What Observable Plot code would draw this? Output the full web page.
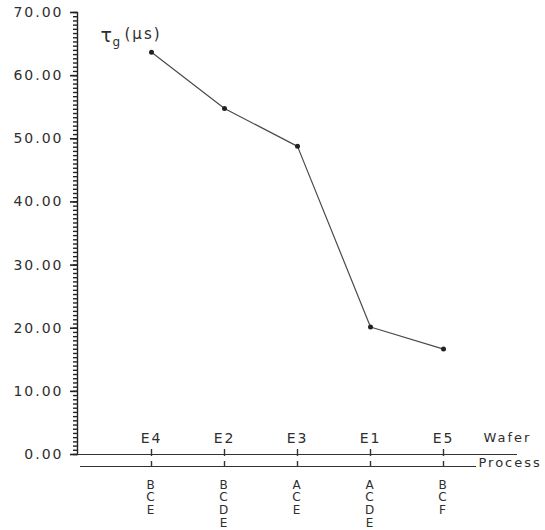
<!DOCTYPE html>
<html><head><meta charset="utf-8">
<script src="https://cdn.jsdelivr.net/npm/d3@7"></script>
<script src="https://cdn.jsdelivr.net/npm/@observablehq/plot@0.6"></script>
<style>
body{margin:0;background:#fff}
svg text{letter-spacing:2px}
</style>
</head><body><div id="chart"></div>
<script>
const wafers = ["E4", "E2", "E3", "E1", "E5"];
const tauG = [63.7, 54.8, 48.8, 20.2, 16.7];
const processes = ["B\nC\nE", "B\nC\nD\nE", "A\nC\nE", "A\nC\nD\nE", "B\nC\nF"];
const yMajorTicks = [0, 10, 20, 30, 40, 50, 60, 70];
const yMinorTicks = d3.range(0, 70.001, 10 / 15);

const data = wafers.map((w, i) => ({wafer: w, tau: tauG[i], process: processes[i]}));
const ink = "#2e2e2e";

const chart = Plot.plot({
  width: 545, height: 530,
  marginLeft: 77, marginRight: 28, marginTop: 12, marginBottom: 76,
  style: {fontFamily: "'DejaVu Sans', sans-serif", background: "#fff", color: ink},
  x: {type: "point", domain: wafers, padding: 1, axis: null},
  y: {domain: [0, 70], axis: null},
  marks: [
    Plot.axisY({ticks: yMinorTicks, tickSize: 4, tickFormat: () => "", label: null, stroke: "#222", strokeWidth: 1.4}),
    Plot.axisY({ticks: yMajorTicks, tickSize: 7, tickPadding: 7, tickFormat: d => d.toFixed(2), label: null, fontSize: 14, fill: ink, stroke: "#222", strokeWidth: 1.6}),
    Plot.frame({anchor: "left", stroke: "#222", strokeWidth: 1.4}),
    Plot.ruleY([0], {stroke: "#333", strokeWidth: 1.2}),
    Plot.ruleX(data, {x: "wafer", y1: 0, y2: 0, insetTop: -5, insetBottom: -2, stroke: "#333", strokeWidth: 1.4}),
    Plot.text(data, {x: "wafer", y: 0, text: "wafer", dy: -16, fontSize: 14, fill: ink}),
    Plot.text(["Wafer"], {frameAnchor: "bottom-right", text: d => d, textAnchor: "start", dx: -34, dy: -13, fontSize: 13, fill: ink}),
    Plot.ruleY([0], {dy: 12, insetLeft: 3, insetRight: 41, stroke: "#333", strokeWidth: 1.2}),
    Plot.ruleX(data, {x: "wafer", y1: 0, y2: 0, dy: 12, insetTop: -5, stroke: "#333", strokeWidth: 1.4}),
    Plot.text(["Process"], {frameAnchor: "bottom-right", text: d => d, textAnchor: "start", dx: -39, dy: 12, fontSize: 13, fill: ink}),
    Plot.text(data, {x: "wafer", y: 0, text: "process", dy: 25, lineAnchor: "top", lineHeight: 1.07, fontSize: 12, fill: ink}),
    Plot.line(data, {x: "wafer", y: "tau", stroke: "#4a4a4a", strokeWidth: 1.2}),
    Plot.dot(data, {x: "wafer", y: "tau", r: 2.5, fill: "#222"}),
    Plot.text(["τ"], {frameAnchor: "top-left", text: d => d, textAnchor: "start", dx: 23, dy: 16, fontSize: 19, fill: ink}),
    Plot.text(["g"], {frameAnchor: "top-left", text: d => d, textAnchor: "start", dx: 35, dy: 25, fontSize: 12, fill: ink}),
    Plot.text(["(μs)"], {frameAnchor: "top-left", text: d => d, textAnchor: "start", dx: 47, dy: 16, fontSize: 15, fill: ink})
  ]
});
document.getElementById("chart").append(chart);
</script>
</body></html>
